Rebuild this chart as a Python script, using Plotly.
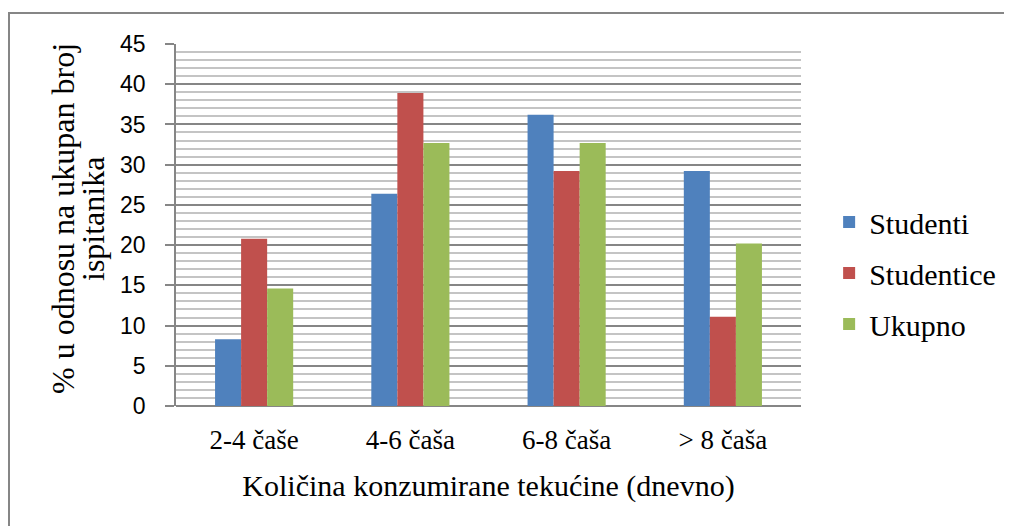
import plotly.graph_objects as go

categories = ["2-4 čaše", "4-6 čaša", "6-8 čaša", "> 8 čaša"]
studenti = [8.3, 26.4, 36.2, 29.2]
studentice = [20.8, 38.9, 29.2, 11.1]
ukupno = [14.6, 32.7, 32.7, 20.2]
y_ticks = [0, 5, 10, 15, 20, 25, 30, 35, 40, 45]
y_title_lines = ["% u odnosu na ukupan broj", "ispitanika"]
x_title = "Količina konzumirane tekućine (dnevno)"

series = [
    ("Studenti", studenti, "#4F81BD"),
    ("Studentice", studentice, "#C0504D"),
    ("Ukupno", ukupno, "#9BBB59"),
]

fig = go.Figure()
for i, (name, vals, col) in enumerate(series):
    fig.add_trace(go.Bar(
        x=categories, y=vals, name=name, legendgroup=f"g{i}",
        marker=dict(color=col, line=dict(width=0)),
    ))

serif = "Liberation Serif, Times New Roman, serif"
gray = "#868686"

# page body has an 8px margin, so the figure is offset by 8px
W, H = 1004, 518
L, T, R, B = 168, 36, 211, 120
pw = W - L - R
ph = H - T - B


def px_x(sx):
    return (sx - 8 - L) / pw


def px_y(sy):
    return (8 + T + ph - sy) / ph


fig.update_layout(
    width=W, height=H,
    margin=dict(l=L, r=R, t=T, b=B, autoexpand=False),
    paper_bgcolor="white", plot_bgcolor="white",
    barmode="group", bargap=0.5, bargroupgap=0,
    showlegend=True,
    legend=dict(
        x=1.045, y=px_y(273), xanchor="left", yanchor="middle",
        font=dict(family=serif, size=30, color="black"),
        traceorder="grouped", tracegroupgap=9,
        bgcolor="rgba(0,0,0,0)",
    ),
    xaxis=dict(
        range=[-0.5, 3.5],
        showgrid=False, showline=False, zeroline=False,
        ticks="",
        tickfont=dict(family=serif, size=27, color="black"),
        ticklabelstandoff=15,
        title=dict(text=x_title,
                   font=dict(family=serif, size=30, color="black"),
                   standoff=20),
    ),
    yaxis=dict(
        range=[0, 45], tickvals=y_ticks,
        showgrid=True, gridcolor=gray, gridwidth=1.5,
        minor=dict(dtick=1, showgrid=True, gridcolor="#C4C4C4", gridwidth=1.5, ticks=""),
        showline=True, linecolor=gray, linewidth=1.5,
        zeroline=True, zerolinecolor=gray, zerolinewidth=1.5,
        ticks="outside", ticklen=9, tickcolor=gray, tickwidth=1.5,
        tickfont=dict(family="Liberation Sans, Arial, sans-serif", size=23, color="black"),
        ticklabelstandoff=15,
    ),
    annotations=[
        dict(text=y_title_lines[0], xref="paper", yref="paper",
             x=px_x(63), y=px_y(219), xanchor="center", yanchor="middle",
             textangle=-90, showarrow=False,
             font=dict(family=serif, size=32, color="black")),
        dict(text=y_title_lines[1], xref="paper", yref="paper",
             x=px_x(93), y=px_y(219), xanchor="center", yanchor="middle",
             textangle=-90, showarrow=False,
             font=dict(family=serif, size=32, color="black")),
    ],
    shapes=[dict(
        type="rect", xref="paper", yref="paper",
        x0=px_x(9), x1=1.5, y0=-0.6, y1=px_y(13),
        line=dict(color=gray, width=2), fillcolor="rgba(0,0,0,0)", layer="below",
    )],
)

fig.write_html("out.html")
